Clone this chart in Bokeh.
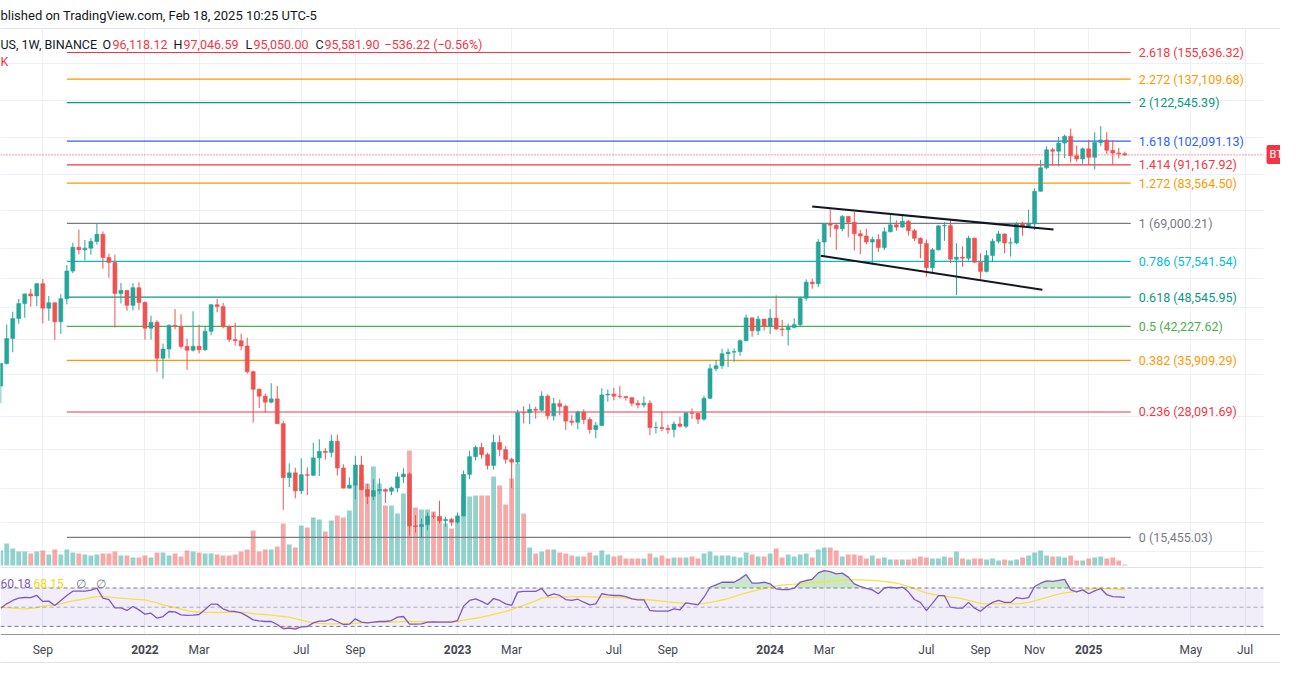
import numpy as np
import pandas as pd
from bokeh.plotting import figure
from bokeh.models import (Range1d, FixedTicker, ColumnDataSource, Span, Label, LabelSet,
                          LinearScale, BoxAnnotation)
from bokeh.core.properties import value, field
from bokeh.embed import file_html
from bokeh.resources import INLINE

# ---------------- data (weekly BTC/USDT, Binance) ----------------
first_week = "2021-07-19"
opens = [31778, 35399, 39845, 43829, 47081, 49300, 48829,
         51753, 46063, 47260, 43160, 48200, 54960, 61530, 60850, 61300, 63270,
         65466, 58622, 57274, 49396, 50098, 46681, 50775, 47345, 41864, 43071,
         36276, 37917, 42412, 42197, 38376, 37699, 38420, 37780, 41262, 46820,
         46407, 42158, 39678, 39450, 38470, 34038, 31305, 30290, 29440, 29906,
         26574, 20553, 21028, 19298, 20836, 20785, 22580, 23296, 23175, 24442,
         21516, 19550, 19830, 21826, 19420, 18803, 19312, 19416, 19262, 19570,
         20627, 20905, 16330, 16280, 16428, 17105, 17090, 16740, 16840, 16618,
         17127, 20871, 22707, 23731, 22930, 21780, 24300, 23490, 22420, 22130,
         28000, 27990, 28450, 28330, 30300, 27590, 29230, 28860, 26900, 26750,
         28080, 27100, 25840, 26340, 30470, 30590, 30290, 30230, 30080, 29280,
         29050, 29290, 26090, 26100, 25970, 25830, 26530, 26250, 27970, 27920,
         27150, 29990, 34520, 35010, 37070, 37360, 37450, 39460, 43990, 41370,
         43720, 42280, 43930, 41730, 41580, 42030, 42580, 48300, 52140, 51730,
         63110, 68950, 68390, 67210, 71280, 69360, 65660, 64940, 63110, 63890,
         61480, 66270, 68500, 67760, 69650, 66630, 64250, 62700, 55850, 60800,
         68160, 68250, 58160, 58710, 58430, 64250, 57300, 54870, 59200, 63350,
         65600, 62820, 62850, 69000, 67930, 68780, 80370, 89850, 97900, 97280,
         101110, 104460, 95200, 93720, 98360, 94500, 101330, 102620, 97700, 96460,
         96118.12]
highs = [35500, 42599, 45310, 48144, 49382, 50500, 51900,
         52920, 48843, 47360, 49230, 56560, 62930, 67000, 63710, 64270, 69000,
         66400, 59700, 59420, 51936, 50200, 51875, 52088, 47570, 44458, 43500,
         38919, 42656, 45855, 44751, 39843, 45400, 42594, 42325, 46999, 48189,
         47200, 42415, 42976, 40800, 40023, 34243, 31400, 30650, 32222, 31790,
         26900, 22000, 21539, 22527, 21589, 24276, 24668, 23647, 25212, 25211,
         21900, 20580, 22800, 22800, 19956, 20386, 20475, 19525, 19706, 21085,
         21480, 21053, 17190, 16888, 17400, 17425, 18400, 17061, 16970, 17400,
         21258, 23371, 23960, 24255, 23160, 25250, 25125, 23880, 22600, 28400,
         28868, 29200, 28800, 31000, 30550, 30036, 29820, 29100, 27666, 28270,
         28450, 27400, 26800, 31431, 31280, 31500, 31800, 30340, 30080, 29730,
         30250, 29690, 26800, 28140, 26440, 26870, 27480, 28000, 28580, 28000,
         30380, 35280, 35985, 37970, 37980, 38000, 39700, 44700, 44050, 44400,
         43800, 45880, 48970, 43580, 42840, 43880, 48600, 52820, 52985, 64000,
         69000, 73777, 68920, 71770, 71340, 72800, 66870, 67230, 64730, 65500,
         67700, 71980, 70000, 71997, 70200, 67200, 64500, 63860, 61390, 68370,
         69400, 70080, 62750, 61800, 65000, 64470, 59800, 60670, 64130, 66500,
         65700, 64480, 69400, 69500, 73620, 81500, 93265, 99590, 98870, 104090,
         105250, 108350, 99980, 98976, 102720, 106420, 109590, 106460, 102500, 98830,
         97046.59]
lows = [29278, 35205, 37332, 42779, 43998, 46370, 46512,
        42843, 43370, 39600, 40750, 46890, 54410, 59510, 57820, 59400, 62333,
        55600, 53250, 42000, 47100, 45500, 45558, 45678, 39650, 39650, 34008,
        32917, 36250, 41645, 37982, 34322, 37450, 37155, 37578, 40467, 45200,
        41868, 39200, 38536, 37702, 33713, 26700, 28630, 28020, 29282, 26560,
        17622, 19640, 18626, 19000, 18910, 20700, 20706, 22400, 22665, 20761,
        19520, 19520, 18530, 19320, 18125, 18471, 19000, 18190, 18900, 19157,
        20031, 15588, 15815, 15476, 16000, 16880, 16525, 16255, 16333, 16500,
        17100, 20400, 22300, 22500, 21350, 21351, 22760, 21970, 19549, 21900,
        26600, 26500, 27200, 28170, 27125, 26942, 27666, 25800, 26330, 25870,
        26500, 25350, 24800, 26250, 29500, 29700, 29950, 29660, 28860, 28580,
        28700, 25166, 25350, 25660, 25330, 24900, 26100, 26000, 27170, 26530,
        26970, 29900, 34080, 34500, 34800, 35632, 36700, 39290, 40200, 40500,
        41400, 40750, 41500, 40280, 38555, 41800, 42260, 47710, 50520, 50900,
        59000, 64530, 60770, 66380, 64490, 60660, 59600, 62400, 56550, 60190,
        60750, 66070, 66600, 67600, 65050, 63380, 58400, 53480, 54260, 60630,
        63460, 57120, 49000, 56080, 57800, 57200, 52550, 54590, 57500, 62700,
        59830, 58900, 62450, 65060, 67500, 66840, 80220, 89380, 90800, 90500,
        94150, 92180, 92500, 91530, 91200, 89260, 99550, 96000, 91230, 94090,
        95050.00]
closes = [35399, 39845, 43829, 47081, 49300, 48829, 51753,
          46063, 47260, 43160, 48200, 54960, 61530, 60850, 61300, 63270, 65466,
          58622, 57274, 49396, 50098, 46681, 50775, 47345, 41864, 43071, 36276,
          37917, 42412, 42197, 38376, 37699, 38420, 37780, 41262, 46820, 46407,
          42158, 39678, 39450, 38470, 34038, 31305, 30290, 29440, 29906, 26574,
          20553, 21028, 19298, 20836, 20785, 22580, 23296, 23175, 24442, 21516,
          19550, 19830, 21826, 19420, 18803, 19312, 19416, 19262, 19570, 20627,
          20905, 16330, 16280, 16428, 17105, 17090, 16740, 16840, 16618, 17127,
          20871, 22707, 23731, 22930, 21780, 24300, 23490, 22420, 22130, 28000,
          27990, 28450, 28330, 30300, 27590, 29230, 28860, 26900, 26750, 28080,
          27100, 25840, 26340, 30470, 30590, 30290, 30230, 30080, 29280, 29050,
          29290, 26090, 26100, 25970, 25830, 26530, 26250, 27970, 27920, 27150,
          29990, 34520, 35010, 37070, 37360, 37450, 39460, 43990, 41370, 43720,
          42280, 43930, 41730, 41580, 42030, 42580, 48300, 52140, 51730, 63110,
          68950, 68390, 67210, 71280, 69360, 65660, 64940, 63110, 63890, 61480,
          66270, 68500, 67760, 69650, 66630, 64250, 62700, 55850, 60800, 68160,
          68250, 58160, 58710, 58430, 64250, 57300, 54870, 59200, 63350, 65600,
          62820, 62850, 69000, 67930, 68780, 80370, 89850, 97900, 97280, 101110,
          104460, 95200, 93720, 98360, 94500, 101330, 102620, 97700, 96460, 96118.12,
          95581.90]
volume_k = [300, 440, 340, 280, 280, 240, 280,
            300, 220, 320, 220, 320, 260, 240, 220, 200, 220,
            240, 240, 280, 200, 200, 160, 160, 200, 160, 260,
            260, 200, 240, 180, 300, 280, 260, 240, 240, 220,
            200, 200, 220, 280, 320, 700, 280, 320, 320, 380,
            840, 420, 360, 800, 760, 960, 920, 680, 900, 1000,
            960, 1100, 1640, 1820, 1640, 1980, 1640, 1200, 1200, 1040,
            1440, 2300, 1160, 1120, 1120, 1080, 960, 840, 740, 860,
            1380, 1380, 1400, 1400, 1400, 1780, 1600, 1220, 1740, 2040,
            1040, 360, 240, 280, 320, 320, 260, 240, 200, 180,
            180, 260, 200, 300, 220, 180, 200, 140, 140, 140,
            140, 240, 160, 200, 140, 160, 160, 160, 180, 140,
            240, 280, 200, 200, 200, 180, 160, 260, 220, 180,
            180, 240, 340, 160, 220, 180, 220, 240, 160, 320,
            360, 360, 300, 180, 220, 220, 200, 140, 200, 140,
            160, 120, 120, 120, 120, 140, 180, 160, 140, 140,
            180, 160, 280, 140, 120, 140, 140, 120, 140, 100,
            120, 100, 120, 160, 200, 260, 300, 200, 180, 180,
            160, 200, 100, 100, 140, 160, 180, 140, 160, 100,
            20]
rsi = [49, 53.5, 57, 59.4, 60.1, 60, 62.2, 56, 56.3, 51.8,
       57, 62.2, 66.7, 66.7, 66.7, 67.7, 69.8, 59.4, 58, 49.3,
       49.3, 46.6, 50.7, 47.2, 42.7, 43.8, 38.6, 40.3, 45.5, 45.2,
       42, 41.4, 41.7, 42.4, 47.6, 53.2, 53.2, 48.3, 45.9, 45.5,
       44.1, 40.7, 36.8, 35.8, 35.1, 35.1, 32, 27.5, 28.2, 27.1,
       29.5, 29.9, 33.7, 35.4, 35.4, 37.9, 35.1, 32, 32.3, 37.9,
       34.4, 33.7, 34.4, 35.1, 35.1, 36.1, 39.6, 40.3, 32.3, 32.3,
       32.7, 34.4, 34.8, 34.4, 34.4, 34.4, 36.1, 51.1, 57, 58.7,
       56, 52.8, 59, 57, 53.5, 51.8, 65.7, 66.4, 66.4, 66.4,
       69.5, 61.5, 63.9, 62.2, 58, 57, 58.3, 55.2, 52.5, 53.5,
       64, 62.9, 62.2, 62.2, 61.1, 58.7, 57.7, 57.7, 46.6, 45.9,
       45.9, 45.9, 48.3, 47.3, 54.6, 53.5, 52.5, 60.4, 70.8, 73.3,
       76, 76, 76, 79.5, 84, 75, 75, 76, 74.3, 69.1,
       68.4, 68.4, 69.8, 76, 77.8, 79, 85.8, 88.2, 87, 84.8,
       85.5, 81.3, 74.3, 71.6, 69.5, 68, 64, 70, 71, 70,
       71, 66, 58, 55, 46.5, 54, 62, 62, 50, 49,
       49, 55, 49, 45.8, 51, 55, 57, 55, 55, 60,
       59, 60, 71.6, 75, 77.5, 77, 78, 79, 68, 66,
       68, 64, 67, 69.5, 63, 61, 60.8, 60.18]
rsi_ma = [50, 49.5, 49, 48.5, 48.3, 48.8, 49.5, 51, 52, 52.5,
          53.5, 55.2, 56.5, 57.5, 58.7, 60, 61, 61, 60.4, 60,
          59.5, 59, 58.5, 58, 57.7, 56, 54.5, 52.5, 51.1, 49.5,
          48, 46.5, 45.5, 45, 44.7, 44.6, 44.5, 44.6, 44.7, 44.8,
          44.8, 44, 43.2, 42.8, 42.4, 41.7, 41, 40.3, 39.6, 38,
          36.5, 35, 33.7, 33.2, 32.9, 32.7, 32.8, 33, 33.2, 33.4,
          33.7, 34, 34.2, 34.4, 34.4, 34.6, 34.8, 35, 35.1, 35,
          34.9, 34.8, 34.8, 34.9, 35, 35.1, 35.1, 36.5, 37.5, 38.5,
          39.6, 41, 42.5, 44, 45.5, 47.5, 50, 52, 54.2, 56.5,
          59.4, 60, 60.2, 60.4, 60.8, 61, 61, 61, 60.8, 60.6,
          60.5, 60.4, 60.3, 60, 59.5, 59, 58.5, 58, 57.5, 57,
          56.3, 55.5, 55, 54.5, 54, 53.7, 53.5, 54, 55, 56,
          57.5, 59, 61, 63, 65, 66.5, 68, 69.5, 70.8, 72,
          73, 73.6, 74, 74.5, 75, 75.5, 76, 76.5, 77, 77.5,
          78, 78.3, 78.5, 78.5, 78.3, 78, 77.5, 77, 76, 75,
          73.5, 71.5, 69.5, 67, 65, 63.5, 62.2, 61.5, 60.5, 60,
          58.7, 57, 55.5, 54, 53.5, 53.5, 53.5, 53.5, 53.5, 53.5,
          54, 55, 56.5, 58.5, 60, 62, 63.5, 65, 65.6, 66.5,
          67.5, 68.5, 69.5, 69.5, 69.3, 69, 68.6, 68.15]

tick_dates = ["2021-09-06", "2022-01-03", "2022-03-07", "2022-07-04", "2022-09-05",
              "2023-01-02", "2023-03-06", "2023-07-03", "2023-09-04", "2024-01-01",
              "2024-03-04", "2024-07-01", "2024-09-02", "2024-11-04", "2025-01-06",
              "2025-05-05", "2025-07-07"]
tick_labels = ["Sep", "2022", "Mar", "Jul", "Sep", "2023", "Mar", "Jul", "Sep", "2024",
               "Mar", "Jul", "Sep", "Nov", "2025", "May", "Jul"]

fib_ratios = ["0", "0.236", "0.382", "0.5", "0.618", "0.786", "1", "1.272", "1.414",
              "1.618", "2", "2.272", "2.618"]
fib_prices = [15455.03, 28091.69, 35909.29, 42227.62, 48545.95, 57541.54, 69000.21,
              83564.50, 91167.92, 102091.13, 122545.39, 137109.68, 155636.32]
fib_start, fib_end = "2021-10-04", "2025-02-24"

channel_upper_dates = ["2024-02-19", "2024-11-26"]
channel_upper_prices = [74750, 66990]
channel_lower_dates = ["2024-02-29", "2024-11-13"]
channel_lower_prices = [59100, 50270]

price_grid = [14460, 16600, 19510, 23500, 27500, 33590, 39680, 46200, 53050, 61220,
              73340, 87000, 104000, 124000, 148000]

rsi_value_text, rsi_ma_text = "60.18", "68.15"
last_o, last_h, last_l, last_c = "96,118.12", "97,046.59", "95,050.00", "95,581.90"
last_chg = "\u2212536.22 (\u22120.56%)"

# ---------------- styling / layout (reference pixel geometry) ----------------
UP, DOWN = "#26A69A", "#EF5350"
fib_colors = ["#787B86", "#F23645", "#FF9800", "#4CAF50", "#089981", "#00BCD4", "#787B86",
              "#FF9800", "#F23645", "#2962FF", "#089981", "#FF9800", "#F23645"]
FONT = "Roboto"
GRID = "#EDF0F6"

W, H = 1280, 684
PXW, X_REF0 = 6.011, 0.223               # px per week, x of first week
REF_PRICE, REF_Y, PX_DEC = 155636.32, 52.0, 483.5
def price_at(y):
    return REF_PRICE * 10 ** ((REF_Y - y) / PX_DEC)
def rsi_at(y):
    return 50 - (y - 606.7) / 0.96
def wk_at(xp):
    return (xp - X_REF0) / PXW
VOL_BASE, VPX = 565, 20

d = pd.date_range(first_week, periods=len(opens), freq="7D")
x = ((d - d[0]).days / 7).to_numpy(dtype=float)
def wk(s):
    return (pd.Timestamp(s) - d[0]).days / 7

o = np.array(opens, float); c = np.array(closes, float)
colors = np.where(c >= o, UP, DOWN)

p = figure(width=W, height=H, output_backend="svg", toolbar_location=None,
           x_range=Range1d(wk_at(0), wk_at(W)), y_range=Range1d(price_at(H), price_at(0)),
           y_axis_type="log", x_axis_location=None, y_axis_location=None,
           min_border=0, min_border_left=0, min_border_right=0, min_border_top=0,
           min_border_bottom=0)
p.outline_line_color = None
p.extra_y_ranges = {
    "vol": Range1d(-(H - VOL_BASE) * VPX, VOL_BASE * VPX),
    "rsi": Range1d(rsi_at(H), rsi_at(0)),
}
p.extra_y_scales = {"vol": LinearScale(), "rsi": LinearScale()}

tick_x = [wk(t) for t in tick_dates]
p.xgrid.ticker = FixedTicker(ticks=tick_x)
p.xgrid.grid_line_color = GRID
p.ygrid.ticker = FixedTicker(ticks=price_grid)
p.ygrid.grid_line_color = GRID

# white masks: header strip, time-axis strip
p.add_layout(BoxAnnotation(bottom=price_at(28), fill_color="white", fill_alpha=1,
                           line_color=None, level="underlay"))
p.add_layout(BoxAnnotation(top=rsi_at(634), y_range_name="rsi", fill_color="white",
                           fill_alpha=1, line_color=None, level="underlay"))
# RSI band
p.add_layout(BoxAnnotation(bottom=30, top=70, y_range_name="rsi", fill_color="#7E57C2",
                           fill_alpha=0.1, line_color=None, level="underlay"))

# volume
vsrc = ColumnDataSource(dict(x=x, v=volume_k, color=colors))
p.vbar(x="x", top="v", bottom=0, width=0.8, source=vsrc, y_range_name="vol",
       fill_color="color", fill_alpha=0.5, line_color=None)

# fib levels
fx0, fx1 = wk(fib_start), wk(fib_end)
fsrc = ColumnDataSource(dict(
    x0=[fx0] * len(fib_prices), x1=[fx1] * len(fib_prices), y=fib_prices, color=fib_colors,
    text=[f"{r} ({v:,.2f})" for r, v in zip(fib_ratios, fib_prices)]))
p.segment(x0="x0", y0="y", x1="x1", y1="y", color="color", line_width=1.2, source=fsrc)
p.text(x="x1", y="y", text="text", source=fsrc, x_offset=8, text_color="color",
       text_align="left", text_baseline="middle", text_font=value(FONT),
       text_font_size="12.5px")

# candles
csrc = ColumnDataSource(dict(x=x, h=highs, l=lows, top=np.maximum(o, c),
                             bot=np.minimum(o, c), color=colors))
p.segment(x0="x", y0="h", x1="x", y1="l", color="color", line_width=1, source=csrc)
p.vbar(x="x", top="top", bottom="bot", width=0.66, fill_color="color",
       line_color="color", line_width=0.6, source=csrc)

# channel
p.line([wk(s) for s in channel_upper_dates], channel_upper_prices, color="#131722", line_width=2)
p.line([wk(s) for s in channel_lower_dates], channel_lower_prices, color="#131722", line_width=2)

# RSI pane
for lv, a in ((70, 1), (50, 0.6), (30, 1)):
    p.add_layout(Span(location=lv, dimension="width", y_range_name="rsi",
                      line_color="#787B86", line_dash="4 3", line_alpha=a, line_width=1))
r = np.array(rsi, float)
p.varea(x=x, y1=70, y2=np.maximum(r, 70), y_range_name="rsi", fill_color="#4CAF50", fill_alpha=0.3)
p.varea(x=x, y1=np.minimum(r, 30), y2=30, y_range_name="rsi", fill_color="#F23645", fill_alpha=0.3)
p.line(x, rsi_ma, y_range_name="rsi", color="#F5E04A", line_width=1.3)
p.line(x, rsi, y_range_name="rsi", color="#7E57C2", line_width=1.3)

# borders / separators
p.add_layout(Span(location=price_at(28), dimension="width", line_color="#E0E3EB", line_width=1))
p.add_layout(Span(location=rsi_at(567), dimension="width", y_range_name="rsi",
                  line_color="#E0E3EB", line_width=1))
p.add_layout(Span(location=rsi_at(634), dimension="width", y_range_name="rsi",
                  line_color="#9598A1", line_width=1))
p.add_layout(Span(location=rsi_at(662), dimension="width", y_range_name="rsi",
                  line_color="#E0E3EB", line_width=1))

# last price line, right price-scale strip and tag
p.add_layout(Span(location=closes[-1], dimension="width", line_color="#F23645",
                  line_dash="1 2", line_width=1))
p.add_layout(BoxAnnotation(left=wk_at(1263), bottom=price_at(633), top=price_at(29),
                           fill_color="white", fill_alpha=1, line_color=None))
p.add_layout(Label(x=1266, y=H - 154, x_units="screen", y_units="screen", text="BTCUSDT",
                   text_color="white", text_font=FONT, text_font_size="11px",
                   text_baseline="middle", background_fill_color="#F23645",
                   padding=3, border_radius=2))

# time-axis labels
tsrc = ColumnDataSource(dict(
    x=tick_x, y=[H - 649] * len(tick_x), text=tick_labels,
    style=["bold" if t.isdigit() else "normal" for t in tick_labels]))
p.add_layout(LabelSet(x="x", y="y", y_units="screen", text="text", source=tsrc,
                      text_align="center", text_baseline="middle",
                      text_font=value(FONT), text_font_size="12px",
                      text_font_style=field("style"), text_color="#434651"))

def lab(xs, ref_y, text, color="#131722", size="12.5px"):
    p.add_layout(Label(x=xs, y=H - ref_y, x_units="screen", y_units="screen", text=text,
                       text_color=color, text_font=FONT, text_font_size=size,
                       text_baseline="middle"))

lab(0, 15, "blished on TradingView.com, Feb 18, 2025 10:25 UTC-5", size="13px")
lab(0, 44, "US, 1W, BINANCE")
for xs, letter, gap, val in ((102, "O", 10, last_o), (173, "H", 10, last_h),
                             (245, "L", 8, last_l), (315, "C", 9, last_c)):
    lab(xs, 44, letter)
    lab(xs + gap, 44, val, "#F23645")
lab(384, 44, last_chg, "#F23645")
lab(0, 61, "K", "#F23645")
lab(0, 583, rsi_value_text, "#7E57C2", "12px")
lab(33, 583, rsi_ma_text, "#F5D90A", "12px")
lab(75, 583, "\u2205", "#787B86", "12px")
lab(95, 583, "\u2205", "#787B86", "12px")

open("out.html", "w").write(file_html(p, INLINE))
